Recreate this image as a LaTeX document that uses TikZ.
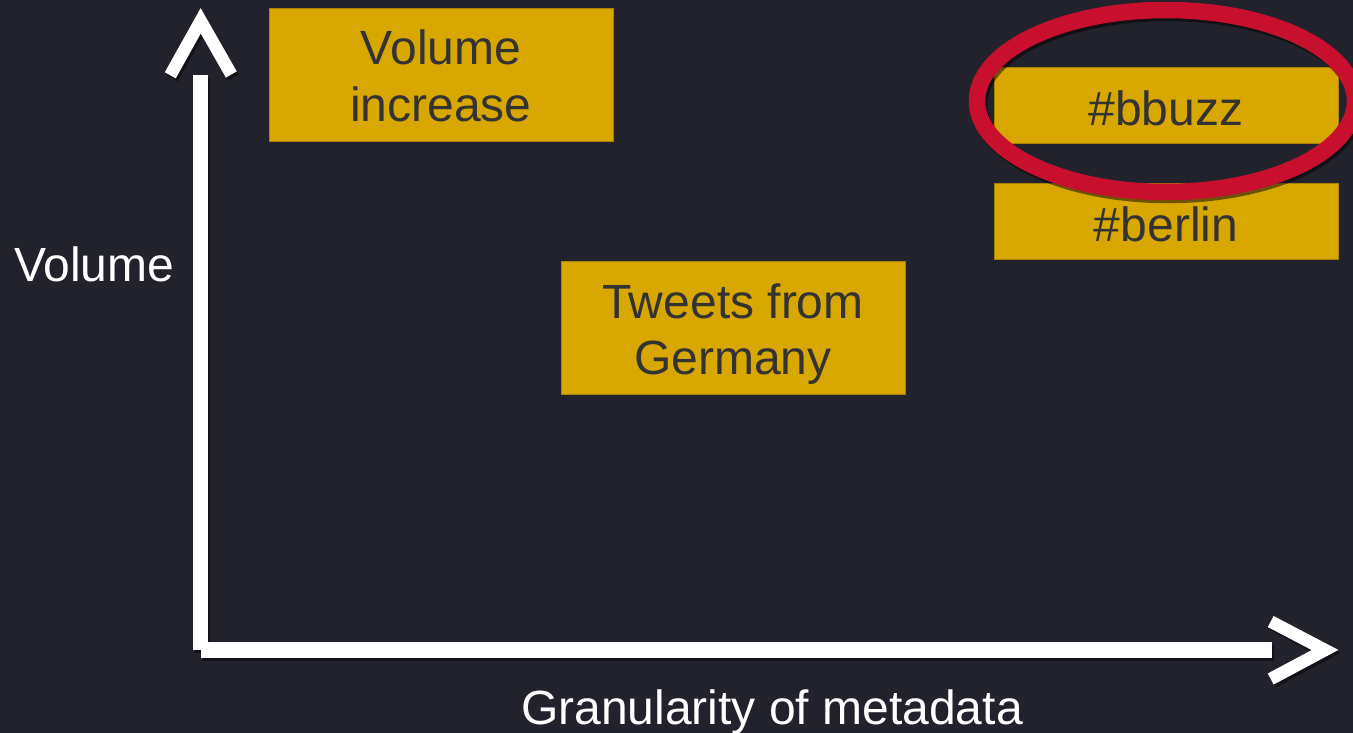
\documentclass[tikz,border=0pt]{standalone}
\usepackage{fontspec}
\setmainfont{Liberation Sans}
\definecolor{bg}{RGB}{34,34,44}
\definecolor{gold}{RGB}{217,168,0}
\definecolor{goldedge}{RGB}{170,132,0}
\definecolor{boxtext}{RGB}{51,51,51}
\definecolor{ringred}{RGB}{200,16,46}
\newcommand{\twolines}[2]{\raisebox{9.5pt}[0pt][0pt]{\parbox[t]{330pt}{\centering #1\\#2}}}
\newcommand{\oneline}[1]{\raisebox{-20.3pt}[0pt][0pt]{#1}}
\begin{document}
\begin{tikzpicture}[x=1pt,y=-1pt,
  goldbox/.style={draw=goldedge, line width=0.8pt, fill=gold, text=boxtext,
    inner sep=0pt, minimum width=344pt,
    font=\fontsize{48}{56.5}\selectfont},
  axis/.style={white, line width=15pt},
  chevron/.style={white, line width=12.5pt, miter limit=10},
  shade/.style={black, opacity=0.45},
  lbl/.style={white, inner sep=0pt, font=\fontsize{48}{57}\selectfont}]
\useasboundingbox (0,0) rectangle (1353,733);
\fill[bg] (0,0) rectangle (1353,733);

% axes coordinates
\coordinate (origin) at (200.5,650);
\coordinate (ytop) at (200.5,75);
\coordinate (xend) at (1272,650);
\coordinate (ua) at (170.3,75.3);
\coordinate (ub) at (200.7,20.8);
\coordinate (uc) at (231.3,74.5);
\coordinate (ra) at (1270.7,621.5);
\coordinate (rb) at (1325,650);
\coordinate (rc) at (1270.7,679);

% shadows
\draw[shade, line width=15pt] ([shift={(2,3)}]ytop) -- ([shift={(2,3)}]origin);
\draw[shade, line width=16pt] ([shift={(2,3)}]origin) -- ([shift={(2,3)}]xend);
\draw[shade, line width=12.5pt] ([shift={(2,3)}]ua) -- ([shift={(2,3)}]ub) -- ([shift={(2,3)}]uc);
\draw[shade, line width=12.5pt] ([shift={(2,3)}]ra) -- ([shift={(2,3)}]rb) -- ([shift={(2,3)}]rc);

% axes
\draw[axis] (ytop) -- (origin);
\draw[axis, line width=16pt] (origin) -- (xend);
\draw[chevron] (ua) -- (ub) -- (uc);
\draw[chevron] (ra) -- (rb) -- (rc);

% boxes
\node[goldbox, minimum height=133pt] (vi) at (441,74.5) {\twolines{Volume}{increase}};
\node[goldbox, minimum height=133pt] (tg) at (733,327.5) {\twolines{Tweets from}{Germany}};
\node[goldbox, minimum height=76pt] (bb) at (1166,105) {\oneline{\#bbuzz}};
\node[goldbox, minimum height=76pt] (be) at (1166,221) {\oneline{\#berlin}};

% highlight ring
\draw[black, opacity=0.5, line width=16.5pt] (1168,104) ellipse [x radius=189pt, y radius=91pt];
\draw[ringred, line width=16.5pt] (1166,101) ellipse [x radius=189pt, y radius=91pt];

% labels
\node[lbl, anchor=base west] (ylab) at (14,281) {Volume};
\node[lbl, anchor=base] (xlab) at (772,724) {Granularity of metadata};
\end{tikzpicture}
\end{document}
